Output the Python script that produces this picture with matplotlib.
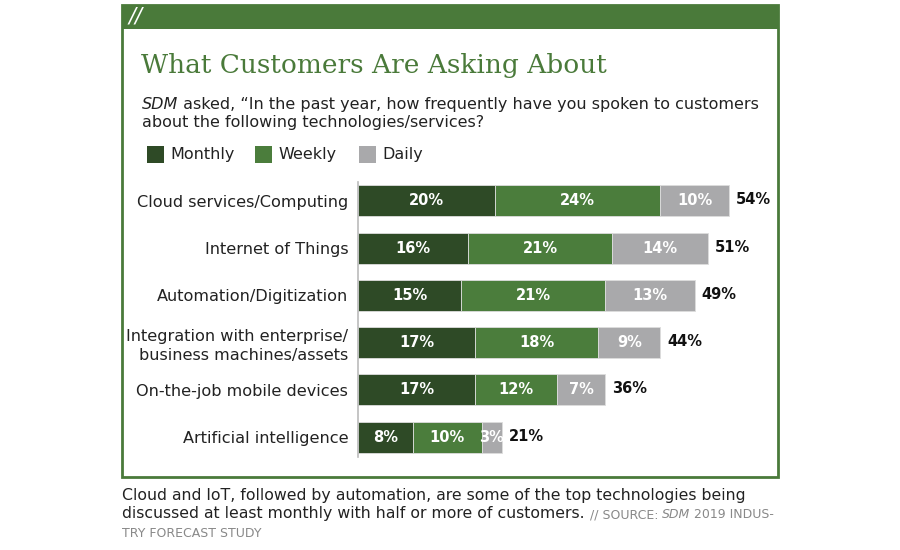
import matplotlib
matplotlib.use("Agg")
import matplotlib.pyplot as plt
from matplotlib.patches import Rectangle
import numpy as np

categories = ["Cloud services/Computing", "Internet of Things", "Automation/Digitization",
              "Integration with enterprise/\nbusiness machines/assets",
              "On-the-job mobile devices", "Artificial intelligence"]
monthly = [20, 16, 15, 17, 17, 8]
weekly = [24, 21, 21, 18, 12, 10]
daily = [10, 14, 13, 9, 7, 3]
totals = [54, 51, 49, 44, 36, 21]
series_names = ["Monthly", "Weekly", "Daily"]

C_MONTH = "#2e4a26"
C_WEEK = "#4b7d3c"
C_DAY = "#a9a9ab"
C_FRAME = "#4a7a3a"
FONT = "DejaVu Sans"

W, H = 900, 550
fig = plt.figure(figsize=(9, 5.5), dpi=100)

def fx(px):
    return px / W

def fy(py):
    return 1 - py / H

# frame
fig.patches.append(Rectangle((fx(122), fy(477)), fx(778) - fx(122), fy(5) - fy(477),
                             transform=fig.transFigure, fill=False, edgecolor=C_FRAME, lw=2))
fig.patches.append(Rectangle((fx(122), fy(29)), fx(778) - fx(122), fy(5) - fy(29),
                             transform=fig.transFigure, facecolor=C_FRAME, edgecolor=C_FRAME, lw=0))
fig.text(fx(129), fy(17), "//", color="white", fontsize=15, style="italic",
         va="center", ha="left", family=FONT)

# title
fig.text(fx(141), fy(65), "What Customers Are Asking About", color="#4a7a3a",
         fontsize=19, family="DejaVu Serif", va="center", ha="left")

# subtitle
SUB = 11.5
t1 = fig.text(fx(142), fy(109), "SDM", style="italic", fontsize=SUB, color="#222222",
              family=FONT, va="baseline", ha="left")
fig.canvas.draw()
r = fig.canvas.get_renderer()
bb = t1.get_window_extent(r)
fig.text(bb.x1 / W, fy(109), " asked, \u201cIn the past year, how frequently have you spoken to customers",
         fontsize=SUB, color="#222222", family=FONT, va="baseline", ha="left")
fig.text(fx(142), fy(127), "about the following technologies/services?", fontsize=SUB,
         color="#222222", family=FONT, va="baseline", ha="left")

# legend
leg_x = [147, 255, 359]
for name, col, lx in zip(series_names, [C_MONTH, C_WEEK, C_DAY], leg_x):
    fig.patches.append(Rectangle((fx(lx), fy(163)), fx(17), fy(146) - fy(163),
                                 transform=fig.transFigure, facecolor=col, lw=0))
    fig.text(fx(lx + 23), fy(154.5), name, fontsize=11.5, color="#222222", family=FONT,
             va="center", ha="left")

# bars
ax = fig.add_axes([fx(358), fy(457), fx(778) - fx(358), fy(182) - fy(457)])
y = np.arange(len(categories))
h = 0.66
m = np.array(monthly)
w = np.array(weekly)
d = np.array(daily)
ax.barh(y, m, height=h, color=C_MONTH, edgecolor="#dddddd", lw=0.6)
ax.barh(y, w, left=m, height=h, color=C_WEEK, edgecolor="#dddddd", lw=0.6)
ax.barh(y, d, left=m + w, height=h, color=C_DAY, edgecolor="#dddddd", lw=0.6)
ax.set_xlim(0, 420 / 6.87)
ax.set_ylim(5.42, -0.40)
for i in range(len(categories)):
    ax.text(m[i] / 2, y[i], f"{m[i]}%", color="white", fontsize=10.5, fontweight="bold",
            ha="center", va="center", family=FONT)
    ax.text(m[i] + w[i] / 2, y[i], f"{w[i]}%", color="white", fontsize=10.5, fontweight="bold",
            ha="center", va="center", family=FONT)
    ax.text(m[i] + w[i] + d[i] / 2, y[i], f"{d[i]}%", color="white", fontsize=10.5,
            fontweight="bold", ha="center", va="center", family=FONT)
    ax.text(totals[i] + 1.0, y[i] - 0.02, f"{totals[i]}%", color="#111111", fontsize=10.5,
            fontweight="bold", ha="left", va="center", family=FONT)
ax.set_yticks(y)
ax.set_yticklabels(categories, fontsize=11.6, color="#222222", family=FONT, ha="right",
                   linespacing=1.35)
ax.tick_params(axis="y", length=0, pad=7)
ax.set_xticks([])
for s in ["top", "right", "bottom"]:
    ax.spines[s].set_visible(False)
ax.spines["left"].set_color("#bbbbbb")
ax.spines["left"].set_linewidth(1.2)
ax.patch.set_alpha(0)

# caption
CAP = 11.3
SRC = 9
fig.text(fx(122), fy(500), "Cloud and IoT, followed by automation, are some of the top technologies being",
         fontsize=CAP, color="#222222", family=FONT, va="baseline", ha="left")
c2 = fig.text(fx(122), fy(518), "discussed at least monthly with half or more of customers.",
              fontsize=CAP, color="#222222", family=FONT, va="baseline", ha="left")
fig.canvas.draw()
bb = c2.get_window_extent(r)
c3 = fig.text(bb.x1 / W + fx(5), fy(518), "// SOURCE: ", fontsize=SRC, color="#888888",
              family=FONT, va="baseline", ha="left")
fig.canvas.draw()
bb = c3.get_window_extent(r)
c4 = fig.text(bb.x1 / W, fy(518), "SDM", fontsize=SRC, color="#888888", style="italic",
              family=FONT, va="baseline", ha="left")
fig.canvas.draw()
bb = c4.get_window_extent(r)
fig.text(bb.x1 / W, fy(518), " 2019 INDUS-", fontsize=SRC, color="#888888",
         family=FONT, va="baseline", ha="left")
fig.text(fx(122), fy(537), "TRY FORECAST STUDY", fontsize=SRC, color="#888888",
         family=FONT, va="baseline", ha="left")

fig.savefig("out.png", dpi=100)
